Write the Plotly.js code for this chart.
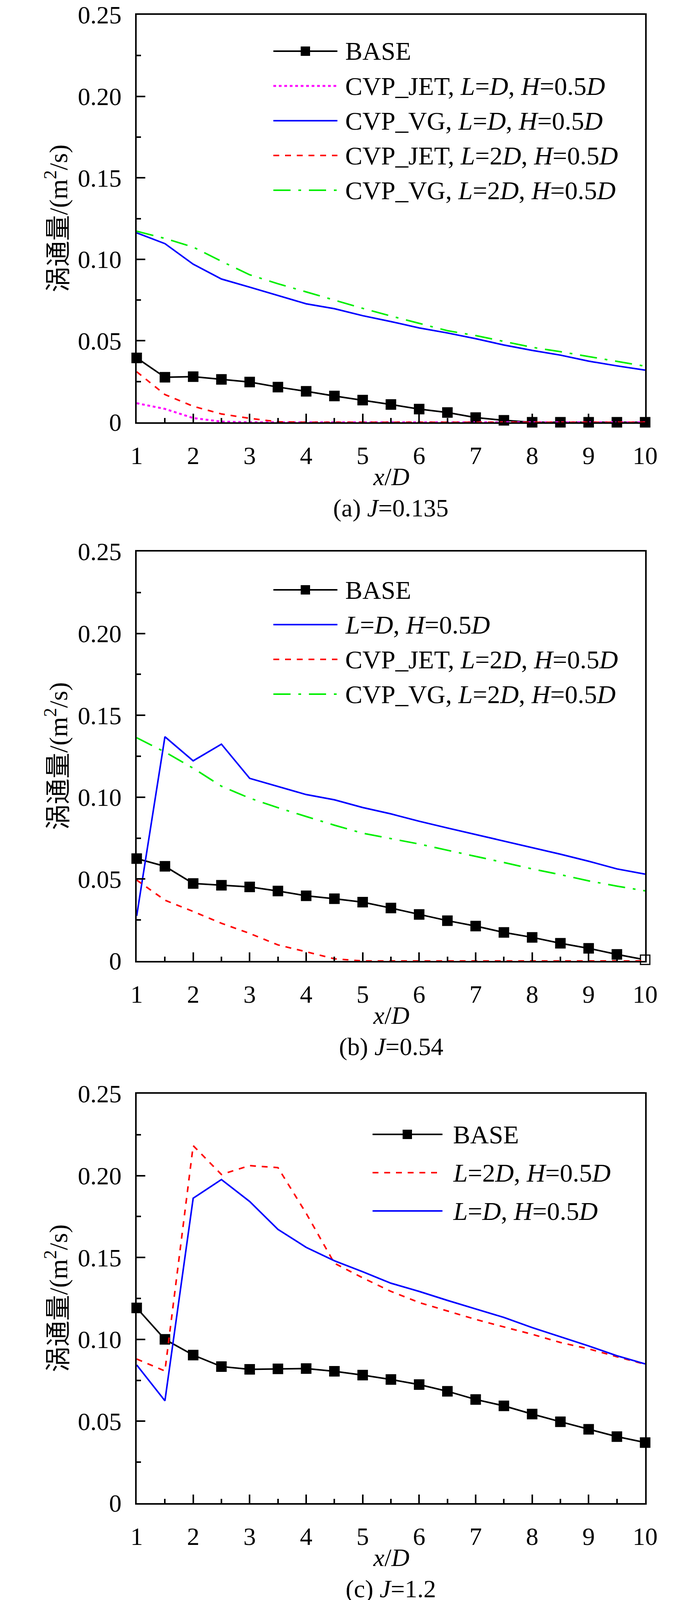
<!DOCTYPE html>
<html><head><meta charset="utf-8">
<script src="https://cdn.plot.ly/plotly-3.0.1.min.js"></script>
<style>html,body{margin:0;padding:0;background:#fff}</style>
</head><body>
<div id="chart" style="width:1772px;height:4105px"></div>
<script>
// ---------- data ----------
const xD = [1,1.5,2,2.5,3,3.5,4,4.5,5,5.5,6,6.5,7,7.5,8,8.5,9,9.5,10];
const xTickVals = [1,2,3,4,5,6,7,8,9,10];
const xTickText = ['1','2','3','4','5','6','7','8','9','10'];
const yTickVals = [0,0.05,0.10,0.15,0.20,0.25];
const yTickText = ['0','0.05','0.10','0.15','0.20','0.25'];

// (a) J=0.135
const aBase  = [0.0395,0.0276,0.0280,0.0263,0.0247,0.0216,0.0190,0.0161,0.0136,0.0109,0.0081,0.0060,0.0029,0.0012,0,0,0,0,0];
const aJetLD = [0.0117,0.0082,0.0026,0.0004,0,0,0,0,0,0,0,0,0,0,0,0,0,0,0];
const aVgLD  = [0.1162,0.1096,0.0970,0.0879,0.0829,0.0778,0.0727,0.0697,0.0654,0.0618,0.0579,0.0548,0.0513,0.0474,0.0441,0.0412,0.0375,0.0346,0.0320];
const aJet2D = [0.0310,0.0170,0.0098,0.0051,0.0024,0.0003,0,0,0,0,0,0,0,0,0,0,0,0,0];
const aVg2D  = [0.1172,0.1128,0.1075,0.0988,0.0905,0.0850,0.0800,0.0750,0.0699,0.0652,0.0606,0.0562,0.0532,0.0495,0.0460,0.0433,0.0404,0.0375,0.0344];

// (b) J=0.54
const bBase  = [0.0625,0.0578,0.0473,0.0462,0.0452,0.0427,0.0398,0.0380,0.0359,0.0323,0.0284,0.0246,0.0213,0.0174,0.0144,0.0108,0.0077,0.0040,0.0007];
const bLD    = [0.0275,0.1369,0.1222,0.1324,0.1115,0.1065,0.1016,0.0984,0.0937,0.0898,0.0853,0.0812,0.0772,0.0730,0.0690,0.0652,0.0609,0.0562,0.0530];
const bJet2D = [0.0494,0.0371,0.0302,0.0230,0.0168,0.0098,0.0056,0.0013,0,0,0,0,0,0,0,0,0,0,0];
const bVg2D  = [0.1363,0.1276,0.1177,0.1067,0.0994,0.0936,0.0882,0.0829,0.0780,0.0746,0.0714,0.0676,0.0639,0.0601,0.0562,0.0527,0.0489,0.0457,0.0428];

// (c) J=1.2
const cBase  = [0.1192,0.1000,0.0904,0.0834,0.0817,0.0820,0.0822,0.0805,0.0782,0.0755,0.0724,0.0683,0.0633,0.0594,0.0544,0.0497,0.0451,0.0406,0.0370];
const cL2D   = [0.0880,0.0807,0.2183,0.2007,0.2061,0.2049,0.1770,0.1465,0.1376,0.1293,0.1225,0.1173,0.1122,0.1076,0.1031,0.0981,0.0942,0.0894,0.0848];
const cLD    = [0.0844,0.0625,0.1862,0.1976,0.1842,0.1672,0.1562,0.1480,0.1413,0.1343,0.1293,0.1238,0.1186,0.1134,0.1072,0.1016,0.0960,0.0900,0.0850];

const captions = ['(a) <i>J</i>=0.135','(b) <i>J</i>=0.54','(c) <i>J</i>=1.2'];
const xTitle = '<i>x</i>/<i>D</i>';
const yTitle = '涡通量/(m<sup>2</sup>/s)';

// ---------- styles ----------
const FONT = 'Liberation Serif, Noto Sans CJK SC, serif';
const FS = 64;       // tick labels, axis titles, captions
const FS_LEG = 66;   // legend text
const FS_YT = 66;    // y title
const W = 1772, H = 4105;
const px2x = p => p / W;
const px2y = p => 1 - p / H;

const S = {
  base:  {line:{color:'#000000', width:4}, marker:true},
  jetLD: {line:{color:'#ff00ff', width:5, dash:'7px,7px'}},
  vgLD:  {line:{color:'#0000ff', width:4}},
  jet2D: {line:{color:'#ff0000', width:4, dash:'15px,15px'}},
  vg2D:  {line:{color:'#00ee00', width:4, dash:'44px,20px,7px,20px'}}
};

const L = (s) => '<i>' + s + '</i>';
const panels = [
  {top:38, bottom:1081, legRows:[131,220,309,398,487], legX:[700,864,782,882],
   series:[
     {name:'BASE', y:aBase, st:S.base},
     {name:'CVP_JET, '+L('L')+'='+L('D')+', '+L('H')+'=0.5'+L('D'), y:aJetLD, st:S.jetLD},
     {name:'CVP_VG, '+L('L')+'='+L('D')+', '+L('H')+'=0.5'+L('D'), y:aVgLD, st:S.vgLD},
     {name:'CVP_JET, '+L('L')+'=2'+L('D')+', '+L('H')+'=0.5'+L('D'), y:aJet2D, st:S.jet2D},
     {name:'CVP_VG, '+L('L')+'=2'+L('D')+', '+L('H')+'=0.5'+L('D'), y:aVg2D, st:S.vg2D}
   ]},
  {top:1412, bottom:2460, legRows:[1510,1599,1688,1777], legX:[700,864,782,882], hollowLast:true,
   series:[
     {name:'BASE', y:bBase, st:S.base},
     {name:L('L')+'='+L('D')+', '+L('H')+'=0.5'+L('D'), y:bLD, st:S.vgLD},
     {name:'CVP_JET, '+L('L')+'=2'+L('D')+', '+L('H')+'=0.5'+L('D'), y:bJet2D, st:S.jet2D},
     {name:'CVP_VG, '+L('L')+'=2'+L('D')+', '+L('H')+'=0.5'+L('D'), y:bVg2D, st:S.vg2D}
   ]},
  {top:2800, bottom:3848, legRows:[2904,3002,3100], legX:[954,1133,1043,1158],
   series:[
     {name:'BASE', y:cBase, st:S.base},
     {name:L('L')+'=2'+L('D')+', '+L('H')+'=0.5'+L('D'), y:cL2D, st:S.jet2D},
     {name:L('L')+'='+L('D')+', '+L('H')+'=0.5'+L('D'), y:cLD, st:S.vgLD}
   ]}
];

const X0 = 350, X1 = 1652;
const traces = [], shapes = [], annotations = [];
const layout = {
  width: W, height: H,
  margin: {l:0, r:0, t:0, b:0, pad:0},
  paper_bgcolor: '#ffffff', plot_bgcolor: '#ffffff',
  showlegend: false,
  font: {family: FONT, size: FS, color: '#000000'}
};

const axisCommon = {
  showline: true, linewidth: 4, linecolor: '#000000', mirror: true,
  ticks: 'inside', ticklen: 22, tickwidth: 4, tickcolor: '#000000',
  showgrid: false, zeroline: false, fixedrange: true,
  ticklabeloverflow: 'allow',
  tickfont: {family: FONT, size: FS, color: '#000000'}
};

panels.forEach((p, i) => {
  const n = i === 0 ? '' : String(i + 1);
  const xa = 'xaxis' + n, ya = 'yaxis' + n;
  layout[xa] = Object.assign({}, axisCommon, {
    domain: [px2x(X0), px2x(X1)], anchor: 'y' + n, range: [1, 10],
    tickmode: 'array', tickvals: xTickVals, ticktext: xTickText,
    ticklabelstandoff: 26,
    minor: {tick0: 1, dtick: 0.5, ticks: 'inside', ticklen: 11, tickwidth: 4, tickcolor: '#000000', showgrid: false}
  });
  layout[ya] = Object.assign({}, axisCommon, {
    domain: [px2y(p.bottom), px2y(p.top)], anchor: 'x' + n, range: [0, 0.25],
    tickmode: 'array', tickvals: yTickVals, ticktext: yTickText,
    ticklabelstandoff: 22,
    minor: {tick0: 0, dtick: 0.025, ticks: 'inside', ticklen: 11, tickwidth: 4, tickcolor: '#000000', showgrid: false}
  });

  p.series.forEach((s, k) => {
    const t = {
      type: 'scatter', x: xD, y: s.y, name: s.name,
      xaxis: 'x' + n, yaxis: 'y' + n,
      mode: s.st.marker ? 'lines+markers' : 'lines',
      line: Object.assign({}, s.st.line),
      cliponaxis: !s.st.marker,
      hoverinfo: 'x+y+name'
    };
    if (s.st.marker) {
      const fill = s.y.map((v, j) => (p.hollowLast && j === s.y.length - 1) ? '#ffffff' : '#000000');
      t.marker = {symbol: 'square', size: 24, color: fill, line: {color: '#000000', width: 3}};
    }
    traces.push(t);

    // legend entry
    const yr = px2y(p.legRows[k]);
    shapes.push({type:'line', xref:'paper', yref:'paper',
      x0: px2x(p.legX[0]), x1: px2x(p.legX[1]), y0: yr, y1: yr,
      line: Object.assign({}, s.st.line)});
    if (s.st.marker) {
      shapes.push({type:'rect', xref:'paper', yref:'paper',
        xsizemode:'pixel', ysizemode:'pixel', xanchor: px2x(p.legX[2]), yanchor: yr,
        x0:-12, x1:12, y0:-12, y1:12, fillcolor:'#000000', line:{width:0}});
    }
    annotations.push({xref:'paper', yref:'paper', x: px2x(p.legX[3]), y: yr,
      xanchor:'left', yanchor:'middle', text: s.name, showarrow:false,
      font:{family: FONT, size: FS_LEG, color:'#000000'}});
  });

  // axis titles & caption
  annotations.push({xref:'paper', yref:'paper', x: px2x(145), y: px2y((p.top + p.bottom) / 2),
    xanchor:'center', yanchor:'middle', textangle:-90, text: yTitle, showarrow:false,
    font:{family: FONT, size: FS_YT, color:'#000000'}});
  annotations.push({xref:'paper', yref:'paper', x: px2x((X0 + X1) / 2), y: px2y(p.bottom + 139),
    xanchor:'center', yanchor:'middle', text: xTitle, showarrow:false,
    font:{family: FONT, size: FS, color:'#000000'}});
  annotations.push({xref:'paper', yref:'paper', x: px2x((X0 + X1) / 2), y: px2y(p.bottom + 219),
    xanchor:'center', yanchor:'middle', text: captions[i], showarrow:false,
    font:{family: FONT, size: FS, color:'#000000'}});
});

layout.shapes = shapes;
layout.annotations = annotations;

Plotly.newPlot('chart', traces, layout, {displayModeBar: false, staticPlot: true});
</script>
</body></html>
